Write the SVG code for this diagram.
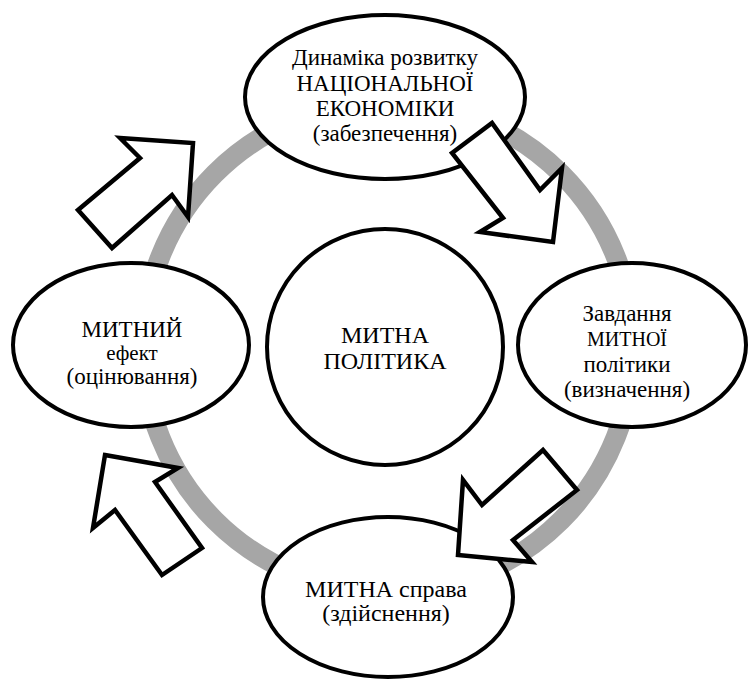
<svg xmlns="http://www.w3.org/2000/svg" width="748" height="682" viewBox="0 0 748 682">
<style>
.nd{fill:#fff;stroke:#000;stroke-width:4}
.ar{fill:#fff;stroke:#000;stroke-width:4.5;stroke-linejoin:miter}
.tx{font-family:'Liberation Serif','Times New Roman','DejaVu Serif',serif;fill:#000;text-anchor:middle}
.t{font-size:23px}
.b{font-size:24px}
.m{font-size:20px}
.s{font-size:21px}
</style>
<rect width="748" height="682" fill="#fff"/>
<g id="ring"><circle cx="388" cy="347" r="245" fill="none" stroke="#a6a6a6" stroke-width="20"/></g>
<g id="n-center"><circle class="nd" cx="385" cy="347" r="118"/>
<text class="tx b" x="385" y="343">МИТНА</text><text class="tx b" x="385" y="369">ПОЛІТИКА</text></g>
<g id="n-top"><ellipse class="nd" cx="385" cy="97" rx="140" ry="82"/>
<text class="tx t" x="385" y="65">Динаміка розвитку</text>
<text class="tx t" x="385" y="91">НАЦІОНАЛЬНОЇ</text>
<text class="tx t" x="385" y="116">ЕКОНОМІКИ</text>
<text class="tx t" x="385" y="141">(забезпечення)</text></g>
<g id="n-right"><ellipse class="nd" cx="632" cy="345" rx="114" ry="82"/>
<text class="tx t" x="627" y="321">Завдання</text>
<text class="tx m" x="627" y="346">МИТНОЇ</text>
<text class="tx t" x="627" y="372">політики</text>
<text class="tx t" x="627" y="397">(визначення)</text></g>
<g id="n-left"><ellipse class="nd" cx="131" cy="345" rx="118" ry="82"/>
<text class="tx t" x="132" y="337">МИТНИЙ</text>
<text class="tx s" x="132" y="360">ефект</text>
<text class="tx t" x="132" y="384">(оцінювання)</text></g>
<g id="n-bottom"><ellipse class="nd" cx="388" cy="597" rx="125" ry="80"/>
<text class="tx b" x="386" y="597">МИТНА справа</text>
<text class="tx b" x="386" y="621">(здійснення)</text></g>
<g id="connectors">
<polygon class="ar" points="452,153 492,123 540,190 562,168 553,242 480,232 503,218"/>
<polygon class="ar" points="543,450 577,490 513,540 532,562 458,555 463,480 482,505"/>
<polygon class="ar" points="105,455 178,468 155,482 202,548 162,575 115,510 93,528"/>
<polygon class="ar" points="120,138 193,143 188,217 172,195 112,248 78,210 140,158"/>
</g>
</svg>
